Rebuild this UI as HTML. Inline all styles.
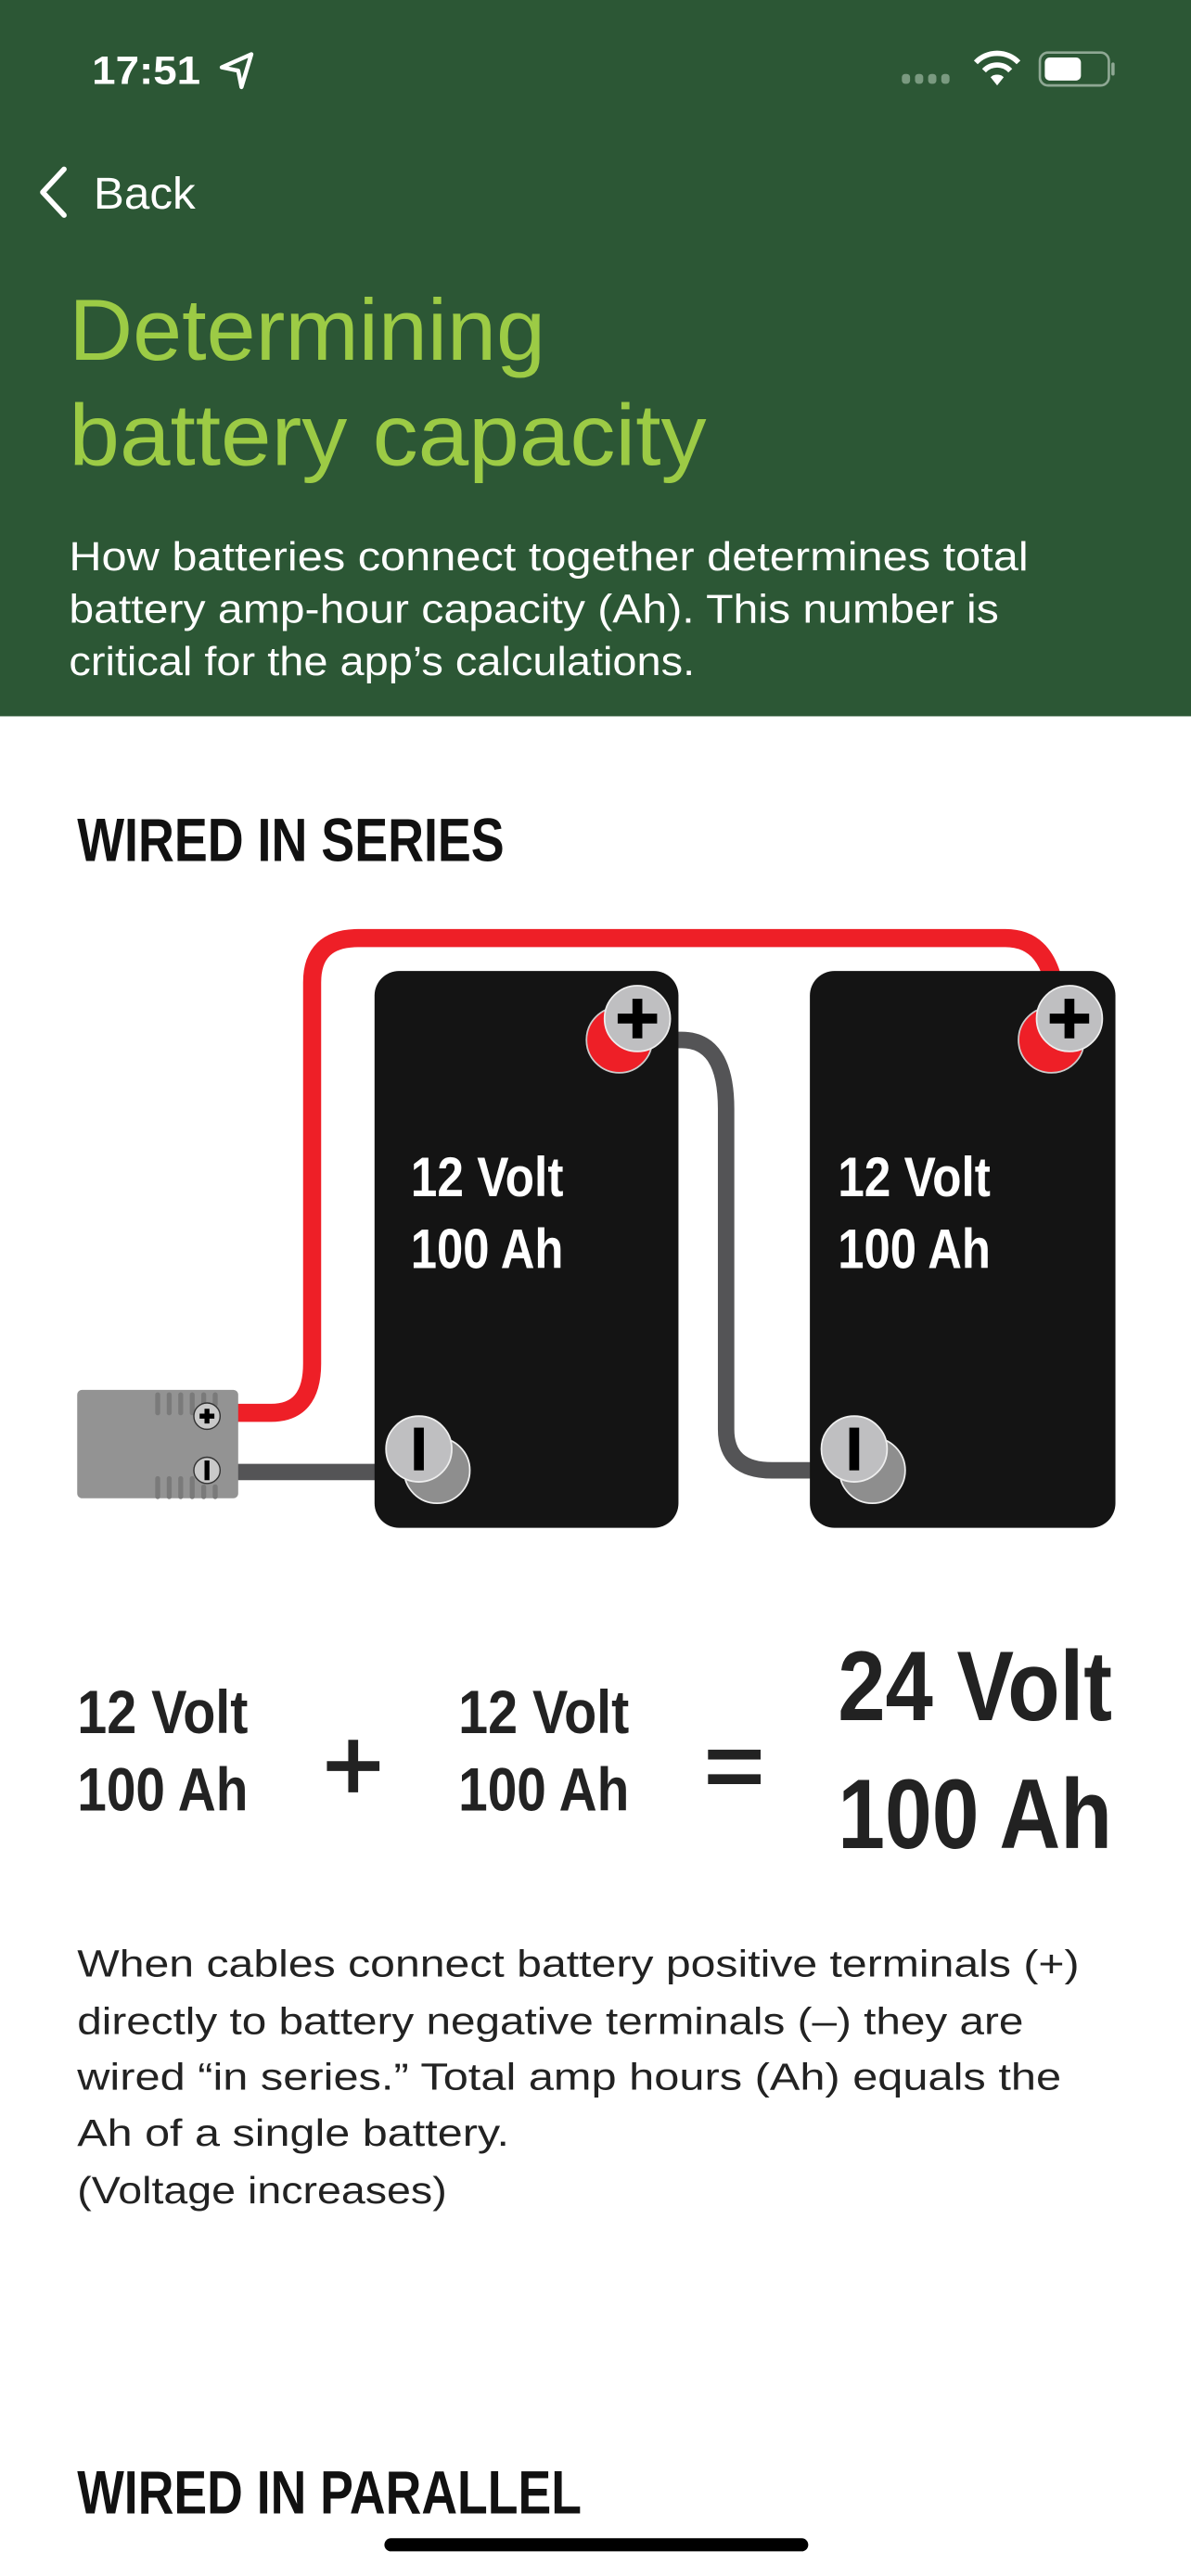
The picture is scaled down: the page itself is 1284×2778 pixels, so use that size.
<!DOCTYPE html>
<html><head><meta charset="utf-8"><style>html,body{margin:0;padding:0;background:#fff;}svg{display:block}</style></head>
<body>
<svg xmlns="http://www.w3.org/2000/svg" width="1284" height="2778" viewBox="0 0 725 1568" preserveAspectRatio="none" font-family="Liberation Sans, sans-serif">
<rect x="0" y="0" width="725" height="1568" fill="#fff"/>
<rect x="0" y="0" width="725" height="436" fill="#2c5735"/>
<!-- status bar -->
<text x="56" y="51" font-size="24" font-weight="700" fill="#fff" textLength="66" lengthAdjust="spacingAndGlyphs">17:51</text>
<path d="M153 33 L135 41 L145 43 L147 53 Z" fill="none" stroke="#fff" stroke-width="2.5" stroke-linejoin="round"/>
<g fill="#7a9a80"><rect x="549" y="45" width="5" height="6" rx="2"/><rect x="557" y="45" width="5" height="6" rx="2"/><rect x="565" y="45" width="5" height="6" rx="2"/><rect x="573" y="45" width="5" height="6" rx="2"/></g>
<path d="M594 38 A18 18 0 0 1 620 38" fill="none" stroke="#fff" stroke-width="3.2"/>
<path d="M599 43 A11 11 0 0 1 615 43" fill="none" stroke="#fff" stroke-width="3.2"/>
<path d="M603 47 L607 52 L611 47 A6 6 0 0 0 603 47Z" fill="#fff"/>
<rect x="633" y="32" width="42" height="20" rx="5" fill="none" stroke="#8fa894" stroke-width="1.5"/>
<rect x="636" y="35" width="22" height="14" rx="3" fill="#fff"/>
<rect x="676.5" y="38" width="2" height="8" rx="1" fill="#8fa894"/>
<!-- back -->
<path d="M39 103 L26 117 L39 131" fill="none" stroke="#fff" stroke-width="3.2" stroke-linecap="round" stroke-linejoin="round"/>
<text x="57" y="127" font-size="27" fill="#fff" textLength="62" lengthAdjust="spacingAndGlyphs">Back</text>
<!-- title -->
<text x="42" y="219" font-size="53" fill="#9ccb45" textLength="290" lengthAdjust="spacingAndGlyphs">Determining</text>
<text x="42" y="283" font-size="53" fill="#9ccb45" textLength="388" lengthAdjust="spacingAndGlyphs">battery capacity</text>
<g font-size="24.5" fill="#fff">
<text x="42" y="347" textLength="584" lengthAdjust="spacingAndGlyphs">How batteries connect together determines total</text>
<text x="42" y="379" textLength="566" lengthAdjust="spacingAndGlyphs">battery amp-hour capacity (Ah). This number is</text>
<text x="42" y="411" textLength="381" lengthAdjust="spacingAndGlyphs">critical for the app’s calculations.</text>
</g>
<!-- heading -->
<text x="47" y="524" font-size="37" font-weight="700" fill="#111" textLength="260" lengthAdjust="spacingAndGlyphs">WIRED IN SERIES</text>
<!-- cables -->
<path d="M140 860 L165 860 Q190 860 190 830 L190 598 Q190 571 218 571 L612 571 Q640 571 643 610" fill="none" stroke="#ee1f27" stroke-width="11"/>
<path d="M400 633 L415 633 Q442 633 442 675 L442 870 Q442 895 470 895 L515 895" fill="none" stroke="#545456" stroke-width="10"/>
<path d="M140 896 L250 896" stroke="#545456" stroke-width="10"/>
<!-- batteries -->
<rect x="228" y="591" width="185" height="339" rx="15" fill="#141414"/>
<rect x="493" y="591" width="186" height="339" rx="15" fill="#141414"/>
<!-- connector -->
<rect x="47" y="846" width="98" height="66" rx="3" fill="#939393"/>
<g stroke="#7a7a7a" stroke-width="3" stroke-linecap="round">
<line x1="96" y1="849" x2="96" y2="860"/><line x1="103" y1="849" x2="103" y2="860"/><line x1="110" y1="849" x2="110" y2="860"/><line x1="117" y1="849" x2="117" y2="860"/><line x1="124" y1="849" x2="124" y2="855"/><line x1="131" y1="849" x2="131" y2="855"/>
<line x1="96" y1="900" x2="96" y2="911"/><line x1="103" y1="900" x2="103" y2="911"/><line x1="110" y1="900" x2="110" y2="911"/><line x1="117" y1="900" x2="117" y2="911"/><line x1="124" y1="905" x2="124" y2="911"/><line x1="131" y1="905" x2="131" y2="911"/>
</g>
<circle cx="126" cy="862" r="8" fill="#c9c9c9" stroke="#333" stroke-width="0.8"/>
<path d="M121.5 862 H130.5 M126 857.5 V866.5" stroke="#000" stroke-width="3"/>
<circle cx="126" cy="895" r="8" fill="#c9c9c9" stroke="#333" stroke-width="0.8"/>
<rect x="124.5" y="889" width="3" height="12" fill="#000"/>
<!-- positive terminals -->
<circle cx="377" cy="633" r="20" fill="#ee1f27" stroke="#ccc" stroke-width="1"/>
<circle cx="388" cy="620" r="20" fill="#bfbfc1" stroke="#eee" stroke-width="1"/>
<path d="M376 620 H400 M388 608 V632" stroke="#000" stroke-width="6"/>
<circle cx="640" cy="633" r="20" fill="#ee1f27" stroke="#ccc" stroke-width="1"/>
<circle cx="651" cy="620" r="20" fill="#bfbfc1" stroke="#eee" stroke-width="1"/>
<path d="M639 620 H663 M651 608 V632" stroke="#000" stroke-width="6"/>
<!-- negative terminals -->
<circle cx="266" cy="895" r="20" fill="#8e8e8e" stroke="#eee" stroke-width="1"/>
<circle cx="255" cy="882" r="20" fill="#bfbfc1" stroke="#eee" stroke-width="1"/>
<rect x="252" y="869" width="6" height="26" fill="#000"/>
<circle cx="531" cy="895" r="20" fill="#8e8e8e" stroke="#eee" stroke-width="1"/>
<circle cx="520" cy="882" r="20" fill="#bfbfc1" stroke="#eee" stroke-width="1"/>
<rect x="517" y="869" width="6" height="26" fill="#000"/>
<!-- battery labels -->
<g font-size="34" font-weight="700" fill="#fff">
<text x="250" y="728" textLength="93" lengthAdjust="spacingAndGlyphs">12 Volt</text>
<text x="250" y="772" textLength="93" lengthAdjust="spacingAndGlyphs">100 Ah</text>
<text x="510" y="728" textLength="93" lengthAdjust="spacingAndGlyphs">12 Volt</text>
<text x="510" y="772" textLength="93" lengthAdjust="spacingAndGlyphs">100 Ah</text>
</g>
<!-- equation -->
<g font-weight="700" fill="#222">
<text x="47" y="1055" font-size="37" textLength="104" lengthAdjust="spacingAndGlyphs">12 Volt</text>
<text x="47" y="1102" font-size="37" textLength="104" lengthAdjust="spacingAndGlyphs">100 Ah</text>
<text x="279" y="1055" font-size="37" textLength="104" lengthAdjust="spacingAndGlyphs">12 Volt</text>
<text x="279" y="1102" font-size="37" textLength="104" lengthAdjust="spacingAndGlyphs">100 Ah</text>
<text x="510" y="1047" font-size="60" textLength="167" lengthAdjust="spacingAndGlyphs">24 Volt</text>
<text x="510" y="1125" font-size="60" textLength="167" lengthAdjust="spacingAndGlyphs">100 Ah</text>
</g>
<path d="M199 1075 H231 M215 1059 V1091" stroke="#222" stroke-width="6"/>
<path d="M431 1068 H463 M431 1083 H463" stroke="#222" stroke-width="6"/>
<!-- description -->
<g font-size="23" fill="#222">
<text x="47" y="1203" textLength="610" lengthAdjust="spacingAndGlyphs">When cables connect battery positive terminals (+)</text>
<text x="47" y="1238" textLength="576" lengthAdjust="spacingAndGlyphs">directly to battery negative terminals (–) they are</text>
<text x="47" y="1272" textLength="599" lengthAdjust="spacingAndGlyphs">wired “in series.”  Total amp hours (Ah) equals the</text>
<text x="47" y="1306" textLength="263" lengthAdjust="spacingAndGlyphs">Ah of a single battery.</text>
<text x="47" y="1341" textLength="225" lengthAdjust="spacingAndGlyphs">(Voltage increases)</text>
</g>
<text x="47" y="1530" font-size="37" font-weight="700" fill="#111" textLength="307" lengthAdjust="spacingAndGlyphs">WIRED IN PARALLEL</text>
<rect x="234" y="1545" width="258" height="8" rx="4" fill="#000"/>
</svg>
</body></html>
